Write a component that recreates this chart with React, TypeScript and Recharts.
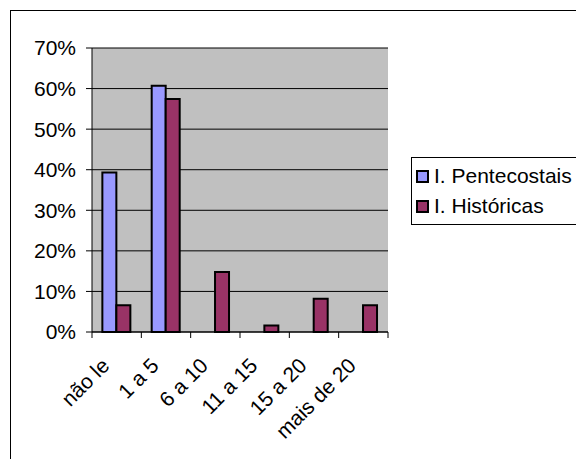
import React from 'react';
import { BarChart, Bar, XAxis, YAxis, CartesianGrid, ReferenceArea } from 'recharts';

const categories = ['não le', '1 a 5', '6 a 10', '11 a 15', '15 a 20', 'mais de 20'];
const pentecostais = [0.393, 0.607, 0, 0, 0, 0];
const historicas = [0.066, 0.574, 0.148, 0.016, 0.082, 0.066];
const seriesNames = ['I. Pentecostais', 'I. Históricas'];
const seriesColors = ['#9999FF', '#993366'];
const yTicks = [0, 0.1, 0.2, 0.3, 0.4, 0.5, 0.6, 0.7];

const data = categories.map((c, i) => ({ cat: c, p: pentecostais[i], h: historicas[i] }));

const FONT = '"Liberation Sans", Arial, sans-serif';

const XTick = (props: any) => {
  const { x, y, payload, index, visibleTicksCount, width } = props;
  const half = typeof width === 'number' && visibleTicksCount ? width / (2 * visibleTicksCount) : payload.offset || 0;
  const ax = x - 6;
  const ay = y + 35;
  return (
    <g>
      <line x1={x - half} x2={x - half} y1={y} y2={y + 6} stroke="#000" />
      {index === visibleTicksCount - 1 && <line x1={x + half} x2={x + half} y1={y} y2={y + 6} stroke="#000" />}
      <text x={ax} y={ay} textAnchor="end" transform={`rotate(-45, ${ax}, ${ay})`} fontSize={21} fontFamily={FONT} fill="#000">
        {payload.value}
      </text>
    </g>
  );
};

export default function App() {
  return (
    <div style={{ position: 'absolute', left: 0, top: 0, width: 576, height: 459, background: '#fff', overflow: 'hidden' }}>
      <div style={{ position: 'absolute', left: 10, top: 10, width: 600, height: 500, border: '1px solid #000' }} />
      <div style={{ position: 'absolute', left: 0, top: 0 }}>
        <BarChart width={576} height={459} data={data} margin={{ top: 48, right: 188, bottom: 27, left: 0 }} barCategoryGap="21%" barGap={0}>
          <CartesianGrid vertical={false} stroke="#000" fill="#C0C0C0" fillOpacity={1} />
          <ReferenceArea fill="none" stroke="#808080" strokeWidth={1.5} ifOverflow="visible" />
          <XAxis dataKey="cat" height={100} tickLine={false} tickSize={0} tickMargin={0} axisLine={{ stroke: '#000' }} tick={<XTick />} interval={0} />
          <YAxis width={92} domain={[0, 0.7]} ticks={yTicks} tickFormatter={(v: number) => `${Math.round(v * 100)}%`} tickSize={6} tickMargin={10} axisLine={{ stroke: '#000' }} tickLine={{ stroke: '#000' }} tick={{ fill: '#000', fontSize: 21, fontFamily: FONT }} />
          <Bar dataKey="p" name={seriesNames[0]} fill={seriesColors[0]} stroke="#000" strokeWidth={2} isAnimationActive={false} />
          <Bar dataKey="h" name={seriesNames[1]} fill={seriesColors[1]} stroke="#000" strokeWidth={2} isAnimationActive={false} />
        </BarChart>
      </div>
      <div style={{ position: 'absolute', left: 411, top: 157, width: 200, height: 66, border: '1px solid #000', background: '#fff' }}>
        <svg width={200} height={66} style={{ position: 'absolute', left: 0, top: 0 }}>
          {seriesNames.map((n, i) => (
            <g key={n}>
              <rect x={5} y={13 + i * 30} width={11} height={11} fill={seriesColors[i]} stroke="#000" strokeWidth={2} />
              <text x={22} y={25 + i * 30} fontSize={21} fontFamily={FONT} fill="#000">{n}</text>
            </g>
          ))}
        </svg>
      </div>
    </div>
  );
}
